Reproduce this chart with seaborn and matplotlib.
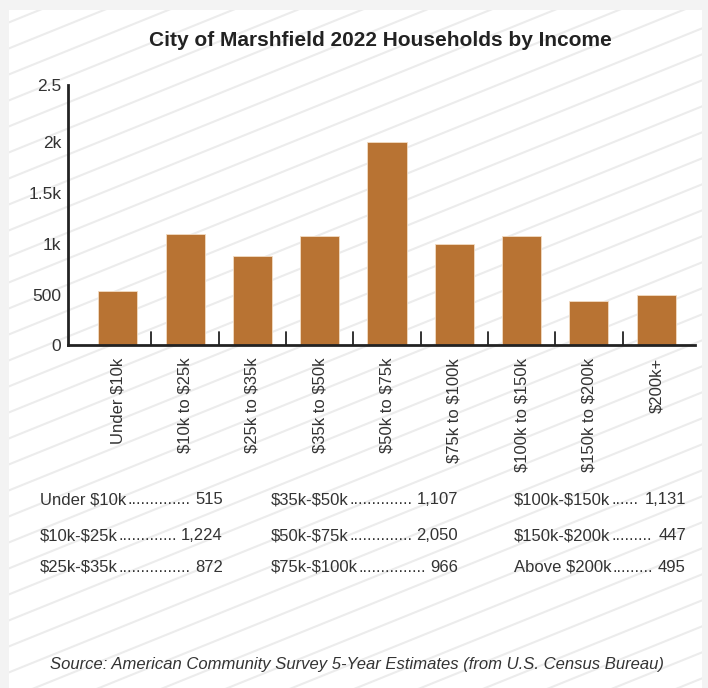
import numpy as np
import pandas as pd
import matplotlib
matplotlib.use('Agg')
import matplotlib.pyplot as plt
import seaborn as sns
from matplotlib.lines import Line2D
from matplotlib.patches import Rectangle
from matplotlib.transforms import IdentityTransform

# data
categories = ['Under $10k', '$10k to $25k', '$25k to $35k', '$35k to $50k', '$50k to $75k',
              '$75k to $100k', '$100k to $150k', '$150k to $200k', '$200k+']
households = [537, 1092, 876, 1073, 2004, 997, 1073, 436, 498]

table_labels = ['Under $10k', '$10k-$25k', '$25k-$35k',
                '$35k-$50k', '$50k-$75k', '$75k-$100k',
                '$100k-$150k', '$150k-$200k', 'Above $200k']
table_values = ['515', '1,224', '872', '1,107', '2,050', '966', '1,131', '447', '495']

ytick_vals = [0, 500, 1000, 1500, 2000, 2565]
ytick_labels = ['0', '500', '1k', '1.5k', '2k', '2.5']

df = pd.DataFrame({'income': categories, 'households': households})

sns.set_theme(style='white')
plt.rcParams['font.family'] = ['Liberation Sans', 'DejaVu Sans']
plt.rcParams['text.parse_math'] = False
TXT = '#333333'
COPPER = '#B87333'

W, H = 708, 688
fig = plt.figure(figsize=(W / 100, H / 100), dpi=100)
fig.patch.set_facecolor('#f3f3f3')

def fx(px):
    return px / W

def fy(py):
    return 1 - py / H

# white panel with faint diagonal stripes
panel = Rectangle((9, 0), W - 15, H - 10, transform=IdentityTransform(),
                  facecolor='white', edgecolor='none', zorder=-3)
fig.patches.append(panel)
ang = np.tan(np.radians(22))
for c in np.arange(-300, H + 10, 26):
    ln = Line2D([0, W], [c, c + ang * W], transform=IdentityTransform(),
                color='#ececec', lw=1.5, zorder=-2)
    ln.set_clip_path(panel)
    fig.lines.append(ln)

ax = fig.add_axes([fx(68.3), 1 - 345.3 / H, fx(695) - fx(68.3), (345.3 - 84.7) / H])
ax.patch.set_alpha(0)
sns.barplot(data=df, x='income', y='households', color=COPPER, saturation=1,
            width=0.58, edgecolor='#f2dcc4', linewidth=0.6, ax=ax)

ax.set_xlim(-0.734, 8.575)
ax.set_ylim(0, 2565)
ax.set_yticks(ytick_vals)
ax.set_yticklabels(ytick_labels)
ax.set_xlabel('')
ax.set_ylabel('')
for s in ['top', 'right']:
    ax.spines[s].set_visible(False)
for s in ['left', 'bottom']:
    ax.spines[s].set_color('#222222')
    ax.spines[s].set_linewidth(2)
ax.tick_params(axis='y', direction='in', length=11, width=1.5, color='#222222',
               pad=5, labelsize=12.5, labelcolor=TXT)
ax.tick_params(axis='x', length=0, pad=9, labelsize=12, labelcolor=TXT)
plt.setp(ax.get_xticklabels(), rotation=90, va='top', ha='center')

# category dividers rising from the baseline
for i in range(len(categories) - 1):
    ax.plot([i + 0.5, i + 0.5], [0, 130], color='#222222', lw=1.3, clip_on=False)

fig.text(fx(380), fy(41), 'City of Marshfield 2022 Households by Income',
         ha='center', va='center', fontsize=15, fontweight='bold', color='#222222')

# summary table with dot leaders
col_start = [40, 271, 514]
col_end = [223, 458, 686]
row_y = [500, 535.5, 567]
fig.canvas.draw()
rend = fig.canvas.get_renderer()
for i, (lab, val) in enumerate(zip(table_labels, table_values)):
    c, r = divmod(i, 3)
    t1 = fig.text(fx(col_start[c]), fy(row_y[r]), lab, ha='left', va='center',
                  fontsize=12, color=TXT)
    t2 = fig.text(fx(col_end[c]), fy(row_y[r]), val, ha='right', va='center',
                  fontsize=12, color=TXT)
    x0 = t1.get_window_extent(rend).x1 + 1
    x1 = t2.get_window_extent(rend).x0 - 3
    dots = '.'
    td = fig.text(x0 / W, fy(row_y[r]), dots, ha='left', va='center', fontsize=12, color=TXT)
    while True:
        td.set_text(dots + '.')
        if td.get_window_extent(rend).x1 > x1:
            td.set_text(dots)
            break
        dots += '.'

fig.text(fx(357), fy(664),
         'Source: American Community Survey 5-Year Estimates (from U.S. Census Bureau)',
         ha='center', va='center', fontsize=12, style='italic', color=TXT)

fig.savefig('out.png', dpi=100, facecolor=fig.get_facecolor())
